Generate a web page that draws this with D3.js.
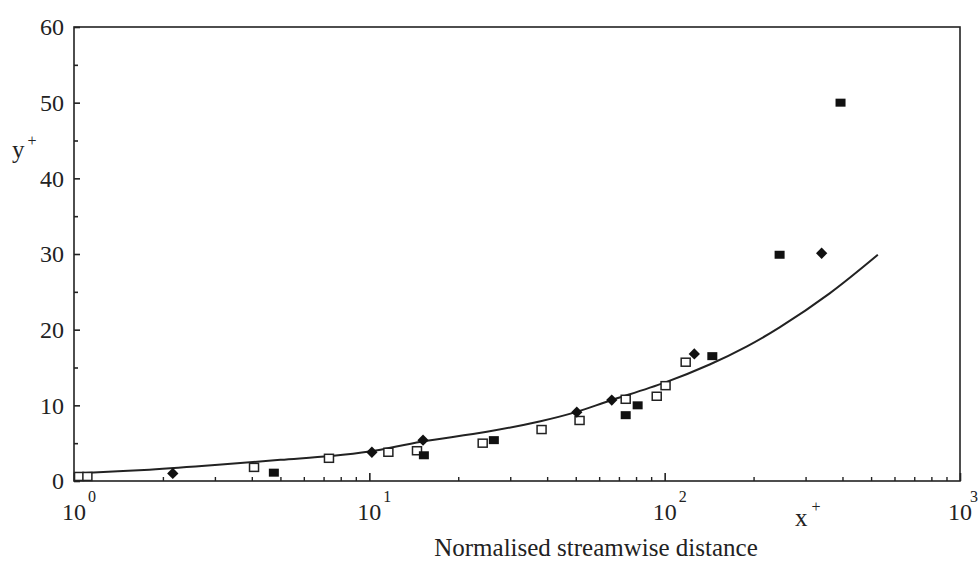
<!DOCTYPE html>
<html><head><meta charset="utf-8">
<script src="https://cdn.jsdelivr.net/npm/d3@7"></script>
<style>
html,body{margin:0;padding:0;background:#fff;}
text{font-family:"Liberation Serif","Times New Roman",serif;fill:#222;}
</style></head>
<body>
<svg id="c" width="980" height="562"></svg>
<script>
// ---- data ----
const curveX = [1, 1.8, 3, 5, 7.35, 10, 15, 25, 38, 50, 65, 100, 142, 190, 245, 362, 527];
const curveY = [1.0, 1.5, 2.1, 2.8, 3.3, 3.9, 5.2, 6.5, 7.9, 9.1, 10.6, 13.0, 15.4, 17.8, 20.3, 24.8, 29.9];

const openX = [1.04, 1.11, 4.07, 7.3, 11.6, 14.5, 24.2, 38.3, 51.5, 73.8, 94, 100.7, 117.8];
const openY = [0.6, 0.6, 1.8, 3.0, 3.8, 4.0, 5.0, 6.8, 8.0, 10.8, 11.2, 12.6, 15.7];

const filledX = [4.75, 15.3, 26.4, 73.8, 81, 145, 245, 394];
const filledY = [1.1, 3.4, 5.4, 8.7, 10.0, 16.5, 29.9, 50.0];

const diamondX = [2.16, 10.2, 15.2, 50.4, 66.2, 126, 340];
const diamondY = [1.0, 3.8, 5.4, 9.1, 10.7, 16.8, 30.1];

const yMajor = [0, 10, 20, 30, 40, 50, 60];
const yMinor = [5, 15, 25, 35, 45, 55];
const xMajor = [1, 10, 100, 1000];
const xExp = ["0", "1", "2", "3"];
const xMinor = [2,3,4,5,6,7,8,9,20,30,40,50,60,70,80,90,200,300,400,500,600,700,800,900];

// ---- layout ----
const W = 980, L = 74, R = 960, T = 27, B = 481;
const svg = d3.select("#c");
const x = d3.scaleLog().domain([1, 1000]).range([L, R]);
const y = d3.scaleLinear().domain([0, 60]).range([B, T]);

// frame
svg.append("rect").attr("x", L).attr("y", T).attr("width", R - L).attr("height", B - T)
  .attr("fill", "none").attr("stroke", "#222").attr("stroke-width", 1.6);

// y axis
const yAx = svg.append("g").attr("transform", `translate(${L},0)`)
  .call(d3.axisLeft(y).tickValues(yMajor).tickSize(-6).tickPadding(10).tickFormat(d3.format("d")));
yAx.select(".domain").remove();
yAx.selectAll("line").attr("stroke", "#222").attr("stroke-width", 1.6);
yAx.selectAll("text").attr("font-size", 24).attr("fill", "#222")
  .attr("font-family", "Liberation Serif, Times New Roman, serif");
const yAxm = svg.append("g").attr("transform", `translate(${L},0)`)
  .call(d3.axisLeft(y).tickValues(yMinor).tickSize(-4).tickFormat(""));
yAxm.select(".domain").remove();
yAxm.selectAll("line").attr("stroke", "#222").attr("stroke-width", 1.6);

// x axis
const xAx = svg.append("g").attr("transform", `translate(0,${B})`)
  .call(d3.axisBottom(x).tickValues(xMajor).tickSize(-8).tickFormat(""));
xAx.select(".domain").remove();
xAx.selectAll("line").attr("stroke", "#222").attr("stroke-width", 1.6);
const xAxm = svg.append("g").attr("transform", `translate(0,${B})`)
  .call(d3.axisBottom(x).tickValues(xMinor).tickSize(-4).tickFormat(""));
xAxm.select(".domain").remove();
xAxm.selectAll("line").attr("stroke", "#222").attr("stroke-width", 1.4);

// x tick labels with superscripts
const xl = svg.append("g");
xMajor.forEach((v, i) => {
  xl.append("text").attr("x", x(v)).attr("y", 520).attr("text-anchor", "middle")
    .attr("font-size", 24).text("10");
  xl.append("text").attr("x", Math.min(x(v) + 14, W - 10)).attr("y", 502)
    .attr("font-size", 16).text(xExp[i]);
});

// axis titles
const yt = svg.append("text").attr("x", 12).attr("y", 158).attr("font-size", 25);
yt.append("tspan").text("y");
yt.append("tspan").attr("dx", 3).attr("dy", -12).attr("font-size", 16).text("+");
const xt = svg.append("text").attr("x", 795).attr("y", 526).attr("font-size", 25);
xt.append("tspan").text("x");
xt.append("tspan").attr("dx", 4).attr("dy", -14).attr("font-size", 16).text("+");
svg.append("text").attr("x", 596).attr("y", 556).attr("text-anchor", "middle")
  .attr("font-size", 25).text("Normalised streamwise distance");

// curve
const line = d3.line().x(d => x(d[0])).y(d => y(d[1])).curve(d3.curveCatmullRom.alpha(0.5));
svg.append("path").datum(curveX.map((v, i) => [v, curveY[i]]))
  .attr("d", line).attr("fill", "none").attr("stroke", "#222").attr("stroke-width", 2);

// markers
const open = openX.map((v, i) => [v, openY[i]]);
svg.append("g").selectAll("rect").data(open).join("rect")
  .attr("x", d => x(d[0]) - 4.5).attr("y", d => y(d[1]) - 4)
  .attr("width", 9).attr("height", 8)
  .attr("fill", "#fff").attr("stroke", "#222").attr("stroke-width", 1.5);

const filled = filledX.map((v, i) => [v, filledY[i]]);
svg.append("g").selectAll("rect").data(filled).join("rect")
  .attr("x", d => x(d[0]) - 5).attr("y", d => y(d[1]) - 4)
  .attr("width", 10).attr("height", 8).attr("fill", "#111");

const dia = diamondX.map((v, i) => [v, diamondY[i]]);
svg.append("g").selectAll("path").data(dia).join("path")
  .attr("d", d3.symbol(d3.symbolSquare, 64))
  .attr("transform", d => `translate(${x(d[0])},${y(d[1])}) rotate(45)`)
  .attr("fill", "#111");
</script>
</body></html>
